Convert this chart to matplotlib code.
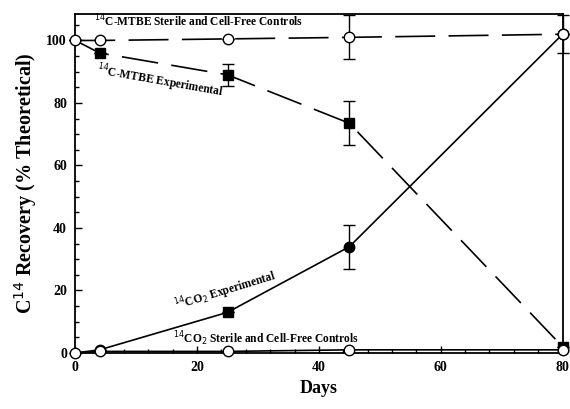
import matplotlib.pyplot as plt
from matplotlib.ticker import MultipleLocator

plt.rcParams['font.family'] = ['Liberation Serif', 'DejaVu Serif']

days = [0, 4, 25, 45, 80]

mtbe_ctrl = [100, 100, 100.5, 101, 102]
mtbe_ctrl_err = [0, 0, 0, 7, 6]
mtbe_exp = [100, 96, 89, 73.5, 2]
mtbe_exp_err = [0, 0, 3.5, 7, 0]
co2_exp = [0, 1, 13, 34, 102]
co2_exp_err = [0, 0, 0, 7, 0]
co2_ctrl = [0, 0.5, 0.5, 1, 1]

fig = plt.figure(figsize=(5.7, 4.09), dpi=100)
ax = fig.add_axes([0.132, 0.137, 0.855, 0.829])

ax.errorbar(days, co2_exp, yerr=co2_exp_err, color='black', lw=1.2, marker='o',
            ms=7.5, mfc='black', capsize=4, elinewidth=1, zorder=3, clip_on=False,
            markevery=[1, 3, 4])
# the day-25 point of this series is drawn as a square in the original
ax.plot(days[2], co2_exp[2], 's', color='black', ms=7, zorder=4)
ax.errorbar(days, mtbe_exp, yerr=mtbe_exp_err, color='black', lw=1.2, marker='s',
            ms=6.5, mfc='black', capsize=4, elinewidth=1, dashes=(22, 8), zorder=3,
            clip_on=False, markevery=[1, 2, 3, 4])
ax.errorbar(days, mtbe_ctrl, yerr=mtbe_ctrl_err, color='black', lw=1.2, marker='o',
            ms=7.5, mfc='white', capsize=4, elinewidth=1, dashes=(24, 8), zorder=4,
            clip_on=False)
ax.plot(days, co2_ctrl, color='black', lw=1.2, marker='o', ms=7.5, mfc='white',
        zorder=4, clip_on=False)

ax.text(3, 104.5, r'$^{14}$C-MTBE Sterile and Cell-Free Controls', fontsize=8.3,
        fontweight='bold')
ax.text(3.3, 93.5, r'$^{14}$C-MTBE Experimental', fontsize=8.3, fontweight='bold',
        rotation=-10, va='top')
ax.text(16, 13.5, r'$^{14}$CO$_2$ Experimental', fontsize=8.3, fontweight='bold',
        rotation=17)
ax.text(16, 3.2, r'$^{14}$CO$_2$ Sterile and Cell-Free Controls', fontsize=8.3,
        fontweight='bold')

ax.set_xlim(0, 80)
ax.set_ylim(0, 108.5)
ax.set_xticks([0, 20, 40, 60, 80])
ax.set_yticks([0, 20, 40, 60, 80, 100])
ax.xaxis.set_minor_locator(MultipleLocator(4))
ax.yaxis.set_minor_locator(MultipleLocator(5))
ax.tick_params(which='both', direction='in', width=1)
ax.tick_params(which='major', length=5, labelsize=10, pad=6)
ax.tick_params(which='minor', length=3)
for lab in ax.get_xticklabels() + ax.get_yticklabels():
    lab.set_fontweight('bold')
for sp in ax.spines.values():
    sp.set_linewidth(1.3)

ax.set_xlabel('Days', fontsize=13, fontweight='bold', labelpad=4)
ax.set_ylabel(r'C$^{14}$ Recovery (% Theoretical)', fontsize=14.5, fontweight='bold',
              labelpad=5)

fig.savefig('out.png')
